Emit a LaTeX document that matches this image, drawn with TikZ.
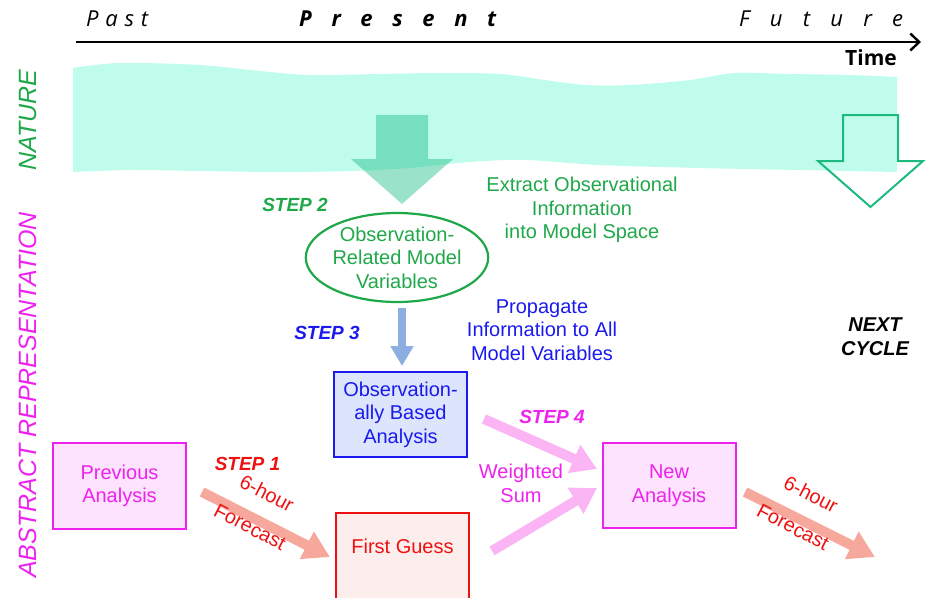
\documentclass[tikz,border=0pt]{standalone}
\usepackage{fontspec}
\setmainfont{Liberation Sans}
\newfontfamily\opensans{Open Sans}
\usetikzlibrary{arrows.meta,shapes.geometric}

\definecolor{natfill}{HTML}{C0FCEC}
\definecolor{natgreen}{HTML}{1FA84A}
\definecolor{arrgreen}{HTML}{1EBF87}
\definecolor{nextgreen}{HTML}{1DBA7E}
\definecolor{magtxt}{HTML}{EE22EE}
\definecolor{magfill}{HTML}{FDE3FD}
\definecolor{pinkarr}{HTML}{FBB5F5}
\definecolor{redtxt}{HTML}{EE1111}
\definecolor{redfill}{HTML}{FDEEEE}
\definecolor{salmon}{HTML}{F6A89C}
\definecolor{bluetxt}{HTML}{1A1AEE}
\definecolor{bluefill}{HTML}{DCE5FB}
\definecolor{bluearr}{HTML}{8CAEE0}

\begin{document}
\begin{tikzpicture}[x=1pt,y=-1pt,
  body/.style={font=\fontsize{20}{23.5}\selectfont, align=center, inner sep=0pt},
  steplabel/.style={font=\fontsize{19}{22}\selectfont\bfseries\itshape, inner sep=0pt},
  sidelabel/.style={font=\fontsize{25}{28}\selectfont\itshape, inner sep=0pt, rotate=90},
  timelabel/.style={font=\opensans\fontsize{22}{26}\selectfont\itshape, inner sep=0pt, anchor=base west},
  boxnode/.style={body, draw, line width=2pt, minimum width=133pt},
  fatarrow/.style={line width=10pt, -{Triangle[length=26pt,width=29pt]}},
  pinkarrow/.style={line width=10pt, draw=pinkarr, -{Triangle[length=25pt,width=29pt]}}
]
\useasboundingbox (0,0) rectangle (928,597);

% ---- time axis
\coordinate (tstart) at (76,42);
\coordinate (tend) at (921,42);
\draw[line width=2.4pt, -{Straight Barb[length=9pt,width=17pt,line width=2.4pt]}] (tstart) -- (tend);
\node[timelabel] (past) at (86,27) {\makebox[62pt][s]{P\hfil a\hfil s\hfil t}};
\node[timelabel, font=\opensans\fontsize{22}{26}\selectfont\bfseries\itshape] (present) at (299,27)
  {\makebox[197pt][s]{P\hfil r\hfil e\hfil s\hfil e\hfil n\hfil t}};
\node[timelabel] (future) at (739,27) {\makebox[164pt][s]{F\hfil u\hfil t\hfil u\hfil r\hfil e}};
\node[font=\opensans\fontsize{21}{24}\selectfont\bfseries, inner sep=0pt, anchor=base east] (time) at (897,65) {Time};

% ---- nature band
\fill[natfill] plot[smooth, tension=0.55] coordinates {(73,68) (120,63) (200,65) (260,71) (310,75) (380,74) (440,73) (500,74) (545,80) (585,85) (630,85) (690,80) (735,73) (790,74) (850,75) (897,77)}
  -- (897,172)
  -- plot[smooth, tension=0.55] coordinates {(897,172) (800,170) (700,168) (600,165) (525,160) (470,162) (410,168) (350,171) (280,172) (200,171) (130,170) (73,172)}
  -- cycle;

% ---- side labels
\node[sidelabel, text=natgreen] (nature) at (28,120) {NATURE};
\node[sidelabel, text=magtxt] (abstract) at (28,395) {ABSTRACT REPRESENTATION};

% ---- step 2 block arrow
\fill[arrgreen, fill opacity=0.45] (376,115) -- (428,115) -- (428,159) -- (453,159) -- (402,204) -- (351,159) -- (376,159) -- cycle;
% ---- next cycle outline arrow
\draw[nextgreen, line width=2pt, line join=miter] (843,115) -- (898,115) -- (898,161) -- (923,161) -- (870.5,207) -- (818,161) -- (843,161) -- cycle;

\node[steplabel, text=natgreen] (step2) at (295,205) {STEP 2};
\node[ellipse, draw=natgreen, line width=2.2pt, minimum width=148pt, minimum height=89pt, inner sep=0pt,
      body, text=natgreen] (obsvar) at (397,257.5) {Observation-\\Related Model\\Variables};
\node[body, text=natgreen] (extract) at (582,210) {Extract Observational\\Information\\into Model Space};

% ---- step 3
\coordinate (s3a) at (402,308);
\coordinate (s3b) at (402,366);
\draw[line width=8pt, draw=bluearr, -{Triangle[length=20pt,width=22pt]}] (s3a) -- (s3b);
\node[steplabel, text=bluetxt] (step3) at (327,333) {STEP 3};
\node[body, text=bluetxt] (propagate) at (542,330) {Propagate\\Information to All\\Model Variables};
\node[body, font=\fontsize{20}{23.5}\selectfont\bfseries\itshape] (next) at (875,336.5) {NEXT\\CYCLE};

% ---- boxes
\node[boxnode, draw=bluetxt, fill=bluefill, text=bluetxt, minimum height=85pt] (obsbased) at (400.5,414.5) {Observation-\\ally Based\\Analysis};
\node[boxnode, draw=magtxt, fill=magfill, text=magtxt, minimum height=86pt] (prev) at (119.5,486) {Previous\\Analysis};
\node[boxnode, draw=redtxt, fill=redfill, text=redtxt, minimum height=96pt, anchor=north, text height=15pt, text depth=31pt] (first) at (402.5,512) {First Guess};
\node[boxnode, draw=magtxt, fill=magfill, text=magtxt, minimum height=85pt] (new) at (669,485.5) {New\\Analysis};

% ---- step 1 forecast
\coordinate (f1a) at (202,492);
\coordinate (f1b) at (330,557);
\draw[fatarrow, draw=salmon] (f1a) -- (f1b);
\node[steplabel, text=redtxt] (step1) at (247.5,464) {STEP 1};
\node[body, text=redtxt, rotate=-27.5] (f1top) at (267,493) {6-hour};
\node[body, text=redtxt, rotate=-27.5] (f1bot) at (250,527) {Forecast};

% ---- step 4 weighted sum
\coordinate (w1a) at (484,419);
\coordinate (w1b) at (597,469);
\coordinate (w2a) at (492,551);
\coordinate (w2b) at (597,488);
\draw[pinkarrow] (w1a) -- (w1b);
\draw[pinkarrow] (w2a) -- (w2b);
\node[steplabel, text=magtxt] (step4) at (552,417) {STEP 4};
\node[body, text=magtxt] (wsum) at (521,483.5) {Weighted\\Sum};

% ---- next forecast
\coordinate (f2a) at (745,492);
\coordinate (f2b) at (875,557);
\draw[fatarrow, draw=salmon] (f2a) -- (f2b);
\node[body, text=redtxt, rotate=-27.5] (f2top) at (811,494) {6-hour};
\node[body, text=redtxt, rotate=-27.5] (f2bot) at (793,527) {Forecast};
\end{tikzpicture}
\end{document}
